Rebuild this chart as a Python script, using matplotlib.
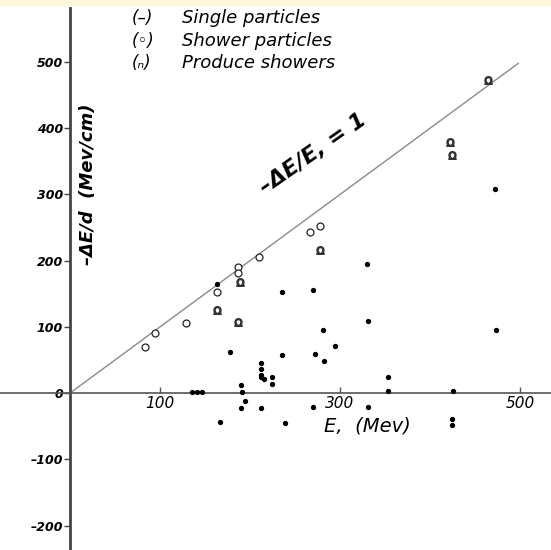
import matplotlib
matplotlib.use("Agg")
import matplotlib.pyplot as plt
from matplotlib.patches import Rectangle

# single particles (dots)
single_e = [135, 141, 147, 163, 167, 178, 190, 191, 194, 190, 212, 212, 212, 212, 215, 224, 224, 212,
            235, 235, 239, 270, 270, 272, 281, 282, 294, 330, 331, 331, 353, 353, 426, 424, 424, 472, 473]
single_de = [1, 1, 1, 165, -44, 62, 12, 2, -12, -23, 45, 36, 27, 24, 22, 24, 14, -23,
             153, 57, -45, 156, -21, 59, 95, 48, 71, 195, 109, -21, 24, 3, 3, -39, -48, 308, 95]

# shower particles (open circles)
shower_e = [83, 94, 129, 163, 187, 187, 210, 267, 278]
shower_de = [69, 91, 106, 153, 190, 181, 205, 243, 252]

# particles that produce showers
produce_e = [163, 189, 187, 278, 422, 424, 464]
produce_de = [125, 168, 107, 216, 379, 360, 473]

line_e = [0, 498]

yticks = [500, 400, 300, 200, 100, 0, -100, -200]
ytick_labels = ["500", "400", "300", "200", "100", "0", "\u2013100", "\u2013200"]
xticks = [100, 300, 500]

fig = plt.figure(figsize=(5.51, 5.50), dpi=100)
fig.patches.append(Rectangle((0, 1 - 5 / 550), 1, 5 / 550, transform=fig.transFigure,
                             color="#fdf8dc", zorder=0))
ax = fig.add_axes([0, 0, 1, 542 / 550])
ax.set_xlim(-77.8, 534.4)
ax.set_ylim(-237, 581.6)

for s in ["top", "right"]:
    ax.spines[s].set_visible(False)
ax.spines["left"].set_position(("data", 0))
ax.spines["bottom"].set_position(("data", 0))
ax.spines["left"].set_linewidth(2)
ax.spines["left"].set_color("#444444")
ax.spines["bottom"].set_linewidth(1.2)
ax.spines["bottom"].set_color("#555555")

ax.set_yticks(yticks)
ax.set_yticklabels(ytick_labels, fontsize=9, fontstyle="italic", fontweight="bold")
ax.tick_params(axis="y", direction="out", length=4, width=1, pad=1, color="#444444")
ax.set_xticks(xticks)
ax.set_xticklabels(["100", "300", "500"], fontsize=11, fontstyle="italic")
ax.tick_params(axis="x", direction="in", length=4, width=1, pad=2, color="#555555")

# -dE/E = 1 line
ax.plot(line_e, line_e, color="#8a8a8a", lw=1, zorder=1)

ax.plot(single_e, single_de, "o", ms=2.8, color="black", zorder=3)
ax.plot(shower_e, shower_de, "o", ms=5, mfc="white", mec="#222222", mew=0.9, zorder=3)
ax.plot(produce_e, produce_de, marker="$\\Omega$", ls="none", ms=5.5, color="#333333", zorder=3)

ax.text(20, 316, "\u2013\u0394E/d  (Mev/cm)", rotation=90, ha="center", va="center",
        fontsize=13, fontstyle="italic", fontweight="bold")
ax.text(330, -50, "E,  (Mev)", ha="center", va="center", fontsize=14, fontstyle="italic")
ax.text(270, 362, "\u2013\u0394E/E, = 1", rotation=35, ha="center", va="center",
        fontsize=16, fontstyle="italic", fontweight="bold")

legend_rows = [("(\u2013)", "Single particles", 18),
               ("(\u25e6)", "Shower particles", 41),
               ("(\u2099)", "Produce showers", 63)]
for sym, txt, ypx in legend_rows:
    fig.text(132 / 551, 1 - ypx / 550, sym, ha="left", va="center", fontsize=12, fontstyle="italic")
    fig.text(182 / 551, 1 - ypx / 550, txt, ha="left", va="center", fontsize=13, fontstyle="italic")

fig.savefig("out.png", dpi=100)
